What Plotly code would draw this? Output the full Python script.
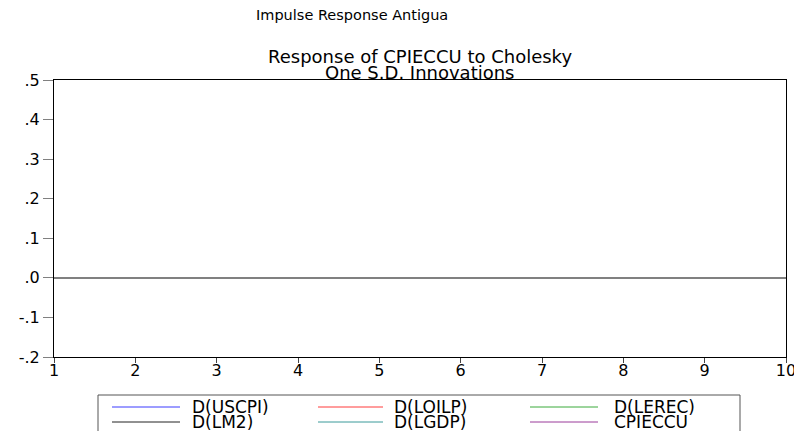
import plotly.graph_objects as go

periods = [1, 2, 3, 4, 5, 6, 7, 8, 9, 10]
series_names = ["D(USCPI)", "D(LOILP)", "D(LEREC)", "D(LM2)", "D(LGDP)", "CPIECCU"]
series_colors = ["#3a3aff", "#ff3a3a", "#3aaa3a", "#222222", "#3a9a9a", "#9a3a9a"]
# responses are not visible in the reference (no lines drawn)
series_values = [[None] * 10 for _ in series_names]
y_tickvals = [-0.2, -0.1, 0.0, 0.1, 0.2, 0.3, 0.4, 0.5]
y_ticktext = ["-.2", "-.1", ".0", ".1", ".2", ".3", ".4", ".5"]
x_ticks = periods

# the page body has an 8px default margin, so the figure is drawn 8px smaller
OFF = 8
W, H = 802 - OFF, 431 - OFF
# plot area in screen pixels
SL, SR, ST, SB = 54, 786, 80, 357
L, R, T, B = SL - OFF, SR - OFF, ST - OFF, SB - OFF


def px(x):
    return (x - SL) / (SR - SL)


def py(y):
    return (SB - y) / (SB - ST)


FONT = "DejaVu Sans"
fig = go.Figure()
for name, col, vals in zip(series_names, series_colors, series_values):
    fig.add_trace(go.Scatter(x=periods, y=vals, mode="lines", name=name,
                             line=dict(color=col, width=1), showlegend=False))
# carrier for the label-only x axis
fig.add_trace(go.Scatter(x=periods, y=series_values[0], xaxis="x2", mode="lines",
                         showlegend=False, hoverinfo="skip"))

fig.update_layout(
    width=W, height=H,
    margin=dict(l=L, r=W - R, t=T, b=H - B, autoexpand=False),
    paper_bgcolor="white", plot_bgcolor="white",
    font=dict(family=FONT, color="black"),
    showlegend=False,
    xaxis=dict(range=[1, 10], tickvals=x_ticks, showticklabels=False,
               showgrid=False, zeroline=False, showline=True, linecolor="black",
               linewidth=1, mirror=True, ticks="outside", ticklen=5, tickcolor="#444444",
               automargin=False),
    xaxis2=dict(range=[1, 10], tickvals=x_ticks, ticktext=[str(v) for v in x_ticks],
                overlaying="x", anchor="y", side="bottom", showgrid=False, zeroline=False,
                showline=False, ticks="", ticklabelstandoff=2,
                tickfont=dict(size=16, family=FONT), automargin=False),
    yaxis=dict(range=[-0.2, 0.5], tickvals=y_tickvals, ticktext=y_ticktext,
               showgrid=False, zeroline=True, zerolinecolor="#808080", zerolinewidth=1.5,
               showline=True, linecolor="black", linewidth=1, mirror=True,
               ticks="outside", ticklen=10, tickcolor="#808080",
               tickfont=dict(size=16, family=FONT), automargin=False),
)

annos = [
    dict(text="Impulse Response Antigua", x=px(352), y=py(15), font=dict(size=14.5)),
    dict(text="Response of CPIECCU to Cholesky", x=px(420), y=py(56), font=dict(size=18)),
    dict(text="One S.D. Innovations", x=px(420), y=py(72), font=dict(size=18)),
]
for a in annos:
    fig.add_annotation(xref="paper", yref="paper", showarrow=False,
                       xanchor="center", yanchor="middle", **a)

# legend box
fig.add_shape(type="rect", xref="paper", yref="paper",
              x0=px(98), x1=px(740), y0=py(395), y1=py(445),
              line=dict(color="#555555", width=1), fillcolor="white", layer="above")
col_line = [(112, 180), (318, 383), (530, 598)]
col_text = [190, 392, 612]
row_y = [407, 422]
for i, (name, col) in enumerate(zip(series_names, series_colors)):
    r, c = divmod(i, 3)
    x0, x1 = col_line[c]
    fig.add_shape(type="line", xref="paper", yref="paper",
                  x0=px(x0), x1=px(x1), y0=py(row_y[r]), y1=py(row_y[r]),
                  line=dict(color=col, width=1))
    fig.add_annotation(xref="paper", yref="paper", showarrow=False,
                       x=px(col_text[c]), y=py(row_y[r]), xanchor="left", yanchor="middle",
                       text=name, font=dict(size=17))

fig.write_html("out.html")
